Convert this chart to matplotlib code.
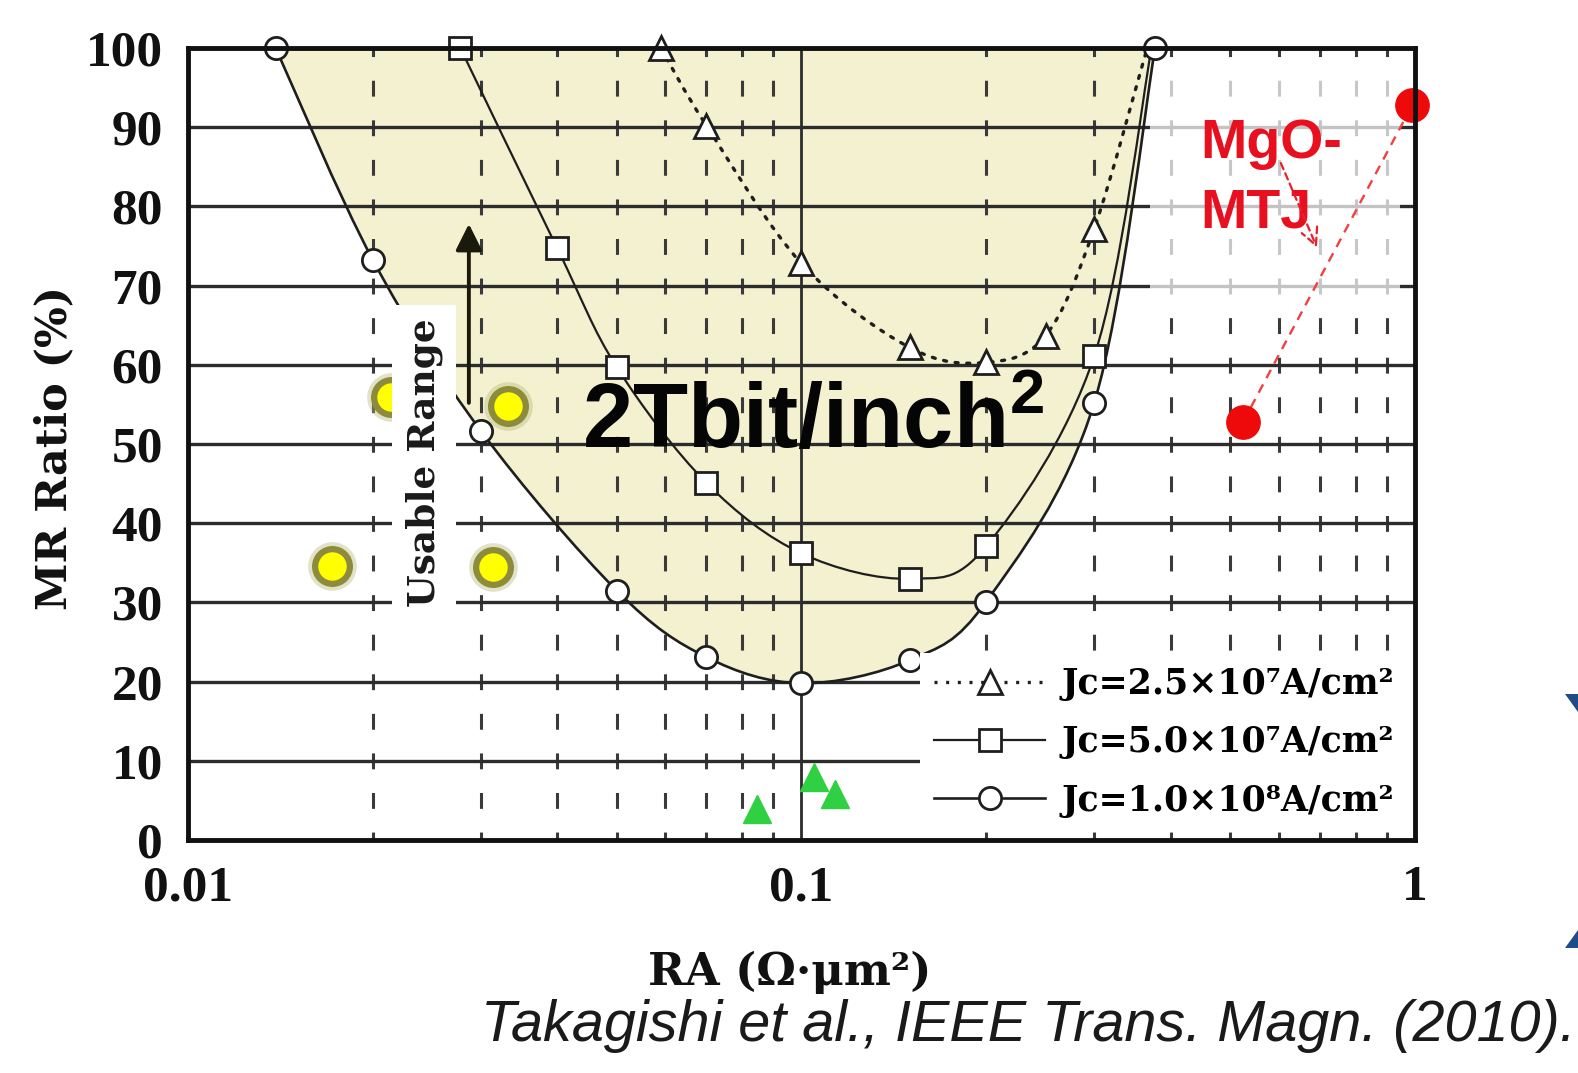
import numpy as np
import matplotlib
matplotlib.use("Agg")
import matplotlib.pyplot as plt
from matplotlib.path import Path
from matplotlib.patches import PathPatch, Polygon, Rectangle
from matplotlib.lines import Line2D
from matplotlib.ticker import LogLocator, NullFormatter, FixedLocator

plt.rcParams['mathtext.fontset'] = 'custom'
plt.rcParams['mathtext.rm'] = 'Liberation Sans:bold'
plt.rcParams['mathtext.it'] = 'Liberation Sans:bold'
plt.rcParams['mathtext.bf'] = 'Liberation Sans:bold'

# ---------------- data ----------------
# Jc = 1.0e8 A/cm^2 (circles)
jc100_x = [0.0139, 0.02, 0.03, 0.05, 0.07, 0.1, 0.15, 0.2, 0.3, 0.377]
jc100_y = [100, 73.3, 51.7, 31.5, 23.1, 19.8, 22.7, 30.1, 55.2, 100]
# Jc = 5.0e7 A/cm^2 (squares); last point is the curve end at the top
jc50_x = [0.0278, 0.04, 0.05, 0.07, 0.1, 0.15, 0.2, 0.3, 0.372]
jc50_y = [100, 74.7, 59.7, 45.1, 36.2, 33.0, 37.1, 61.1, 100]
# Jc = 2.5e7 A/cm^2 (triangles); last point is the curve end at the top
jc25_x = [0.059, 0.07, 0.1, 0.15, 0.2, 0.25, 0.3, 0.366]
jc25_y = [100, 90.2, 72.8, 62.2, 60.3, 63.7, 77.2, 100]

yellow_x = [0.0214, 0.0333, 0.0172, 0.0314]
yellow_y = [55.9, 54.8, 34.6, 34.5]
green_x = [0.0846, 0.1048, 0.1134]
green_y = [3.9, 8.0, 5.8]
mgo_x = [0.5245, 0.99]
mgo_y = [52.8, 92.8]

legend_labels = ['Jc=2.5×10⁷A/cm²', 'Jc=5.0×10⁷A/cm²', 'Jc=1.0×10⁸A/cm²']
xtick_vals = [0.01, 0.1, 1]
xtick_labels = ['0.01', '0.1', '1']
ytick_vals = list(range(0, 101, 10))


def smooth_path(xs, ys):
    """Catmull-Rom curve through the given points (log-x space), as Bezier path."""
    u = np.log10(np.asarray(xs, float))
    v = np.asarray(ys, float)
    pts = np.column_stack([u, v])
    n = len(pts)
    verts = [pts[0]]
    codes = [Path.MOVETO]
    for i in range(n - 1):
        p0 = pts[max(i - 1, 0)]
        p1 = pts[i]
        p2 = pts[i + 1]
        p3 = pts[min(i + 2, n - 1)]
        c1 = p1 + (p2 - p0) / 6.0
        c2 = p2 - (p3 - p1) / 6.0
        verts += [c1, c2, p2]
        codes += [Path.CURVE4] * 3
    verts = np.array(verts)
    verts[:, 0] = 10 ** verts[:, 0]
    return verts, codes


fig = plt.figure(figsize=(15.78, 10.73), dpi=100)
ax = fig.add_axes([0.1191, 0.2171, 0.7776, 0.7381])
ax.set_xscale('log')
ax.set_xlim(0.01, 1)
ax.set_ylim(0, 100)
ax.set_axisbelow(True)

# grid
ax.xaxis.set_major_locator(FixedLocator(xtick_vals))
ax.xaxis.set_minor_locator(LogLocator(base=10, subs=np.arange(2, 10)))
ax.xaxis.set_minor_formatter(NullFormatter())
ax.set_xticks(xtick_vals, xtick_labels)
ax.set_yticks(ytick_vals)
ax.yaxis.grid(True, which='major', color='#2c2c2c', lw=2.4)
ax.xaxis.grid(True, which='major', color='#2c2c2c', lw=2.0)
ax.xaxis.grid(True, which='minor', color='#3a3a3a', lw=2.2,
              linestyle=(2.6, (5.2, 7.75)))

ax.tick_params(which='both', length=0)
ax.tick_params(axis='y', pad=18)
ax.tick_params(axis='x', pad=18)
for lab in ax.get_xticklabels() + ax.get_yticklabels():
    lab.set_fontfamily('Liberation Serif')
    lab.set_fontweight('bold')
    lab.set_fontsize(37)
    lab.set_color('#111111')

for sp in ax.spines.values():
    sp.set_linewidth(3.5)
    sp.set_color('#111111')
    sp.set_zorder(6)

# filled usable region (above the Jc=1e8 curve)
fv, fc = smooth_path(jc100_x, jc100_y)
fill_path = Path(np.vstack([fv, fv[:1]]), fc + [Path.CLOSEPOLY])
ax.add_patch(PathPatch(fill_path, facecolor='#f3f1d0', edgecolor='none', zorder=0.2))

# faded area behind MgO label
ax.add_patch(Rectangle((0.37, 68.4), 0.945 - 0.37, 97.3 - 68.4, facecolor='white',
                       edgecolor='none', alpha=0.72, zorder=1))

line_col = '#1e1e1e'
series = [
    (jc25_x, jc25_y, '^', (0, (0.9, 2.6)), 2.4, 17, len(jc25_x) - 1),
    (jc50_x, jc50_y, 's', '-', 1.6, 16, len(jc50_x) - 1),
    (jc100_x, jc100_y, 'o', '-', 1.9, 16, len(jc100_x)),
]
handles = []
for xs, ys, mk, ls, lw, ms, nmark in series:
    v, c = smooth_path(xs, ys)
    pp = PathPatch(Path(v, c), fill=False, edgecolor=line_col, lw=lw,
                   linestyle=ls, zorder=2, capstyle='round')
    ax.add_patch(pp)
    ax.plot(xs[:nmark], ys[:nmark], linestyle='none', marker=mk, ms=ms,
            mfc='white', mec=line_col, mew=2.0, zorder=3, clip_on=False)
    handles.append(Line2D([], [], color=line_col, lw=lw, linestyle=ls, marker=mk,
                          ms=ms, mfc='white', mec=line_col, mew=2.0))

leg = ax.legend(handles, legend_labels, loc='upper left',
                bbox_to_anchor=(0.597, 0.0, 0.403, 0.236), mode='expand',
                frameon=True, fancybox=False, facecolor='white', edgecolor='none',
                framealpha=1.0, handlelength=3.2, handletextpad=0.45, labelspacing=0.7,
                borderpad=0.4, borderaxespad=0.0,
                prop={'family': ['DejaVu Serif', 'DejaVu Sans'], 'weight': 'bold', 'size': 25})
leg.set_zorder(5)

# yellow dots
ax.plot(yellow_x, yellow_y, linestyle='none', marker='o', ms=31, mfc='none',
        mec='#b8b878', mew=4, alpha=0.4, zorder=3)
ax.plot(yellow_x, yellow_y, linestyle='none', marker='o', ms=25, mfc='#ffff00',
        mec='#8c8c3c', mew=4.5, zorder=3)

# green triangles
ax.plot(green_x, green_y, linestyle='none', marker='^', ms=20, mfc='#2fd042',
        mec='#2fd042', mew=1, zorder=3)

# MgO-MTJ points
ax.plot(mgo_x, mgo_y, color='#f04040', lw=1.7, linestyle=(0, (4, 3)), zorder=3)
ax.plot(mgo_x, mgo_y, linestyle='none', marker='o', ms=24, mfc='#ee0a0a',
        mec='#ee0a0a', zorder=4, clip_on=False)
ax.text(0.4463, 86.1, 'MgO-', color='#e8101e', fontsize=40, fontweight='bold',
        family='Liberation Sans', va='baseline', ha='left', zorder=4)
ax.text(0.4463, 77.4, 'MTJ', color='#e8101e', fontsize=40, fontweight='bold',
        family='Liberation Sans', va='baseline', ha='left', zorder=4)
ax.annotate('', xy=(0.695, 74.5), xytext=(0.602, 85.8),
            arrowprops=dict(arrowstyle='->', color='#e8202a', lw=1.6,
                            linestyle=(0, (3, 2)), mutation_scale=30), zorder=4)

# usable range arrow + label
ax.annotate('', xy=(0.0287, 77.8), xytext=(0.0287, 55.2),
            arrowprops=dict(arrowstyle='-|>', color='#1a1a0a', lw=2.8,
                            mutation_scale=40, shrinkA=0, shrinkB=0), zorder=4)
ax.text(0.02425, 47.7, 'Usable Range', rotation=90, ha='center', va='center',
        fontsize=27, fontweight='bold', family='DejaVu Serif', color='#1a1a1a',
        zorder=4, bbox=dict(boxstyle='square,pad=0.35', facecolor='white', edgecolor='none'))

# big density label
ax.text(0.0439, 49.5, '2Tbit/inch$^{2}$', fontsize=65, fontweight='bold',
        family='Liberation Sans', va='baseline', ha='left', color='#050505', zorder=4)

# axis labels
ax.set_ylabel('MR Ratio (%)', fontsize=31, fontweight='bold', family='DejaVu Serif',
              color='#111111')
ax.yaxis.set_label_coords(-0.092, 0.495)
ax.set_xlabel('RA (Ω·μm²)', fontsize=32, fontweight='bold', family='DejaVu Serif',
              color='#111111')
ax.xaxis.set_label_coords(0.49, -0.14)

# citation
fig.text(0.9985, 0.03, 'Takagishi et al., IEEE Trans. Magn. (2010).', ha='right',
         va='baseline', fontsize=41.5, style='italic', family='Liberation Sans',
         color='#1a1a1a')

# slide decoration fragments at right edge
fig.add_artist(Polygon([[0.9918, 0.3532], [1.0, 0.3532], [1.0, 0.3364]], closed=True,
                       transform=fig.transFigure, facecolor='#1f4b87', edgecolor='none'))
fig.add_artist(Polygon([[0.9918, 0.1165], [1.0, 0.1165], [1.0, 0.1333]], closed=True,
                       transform=fig.transFigure, facecolor='#1f4b87', edgecolor='none'))

fig.savefig('out.png', dpi=100, facecolor='white')
